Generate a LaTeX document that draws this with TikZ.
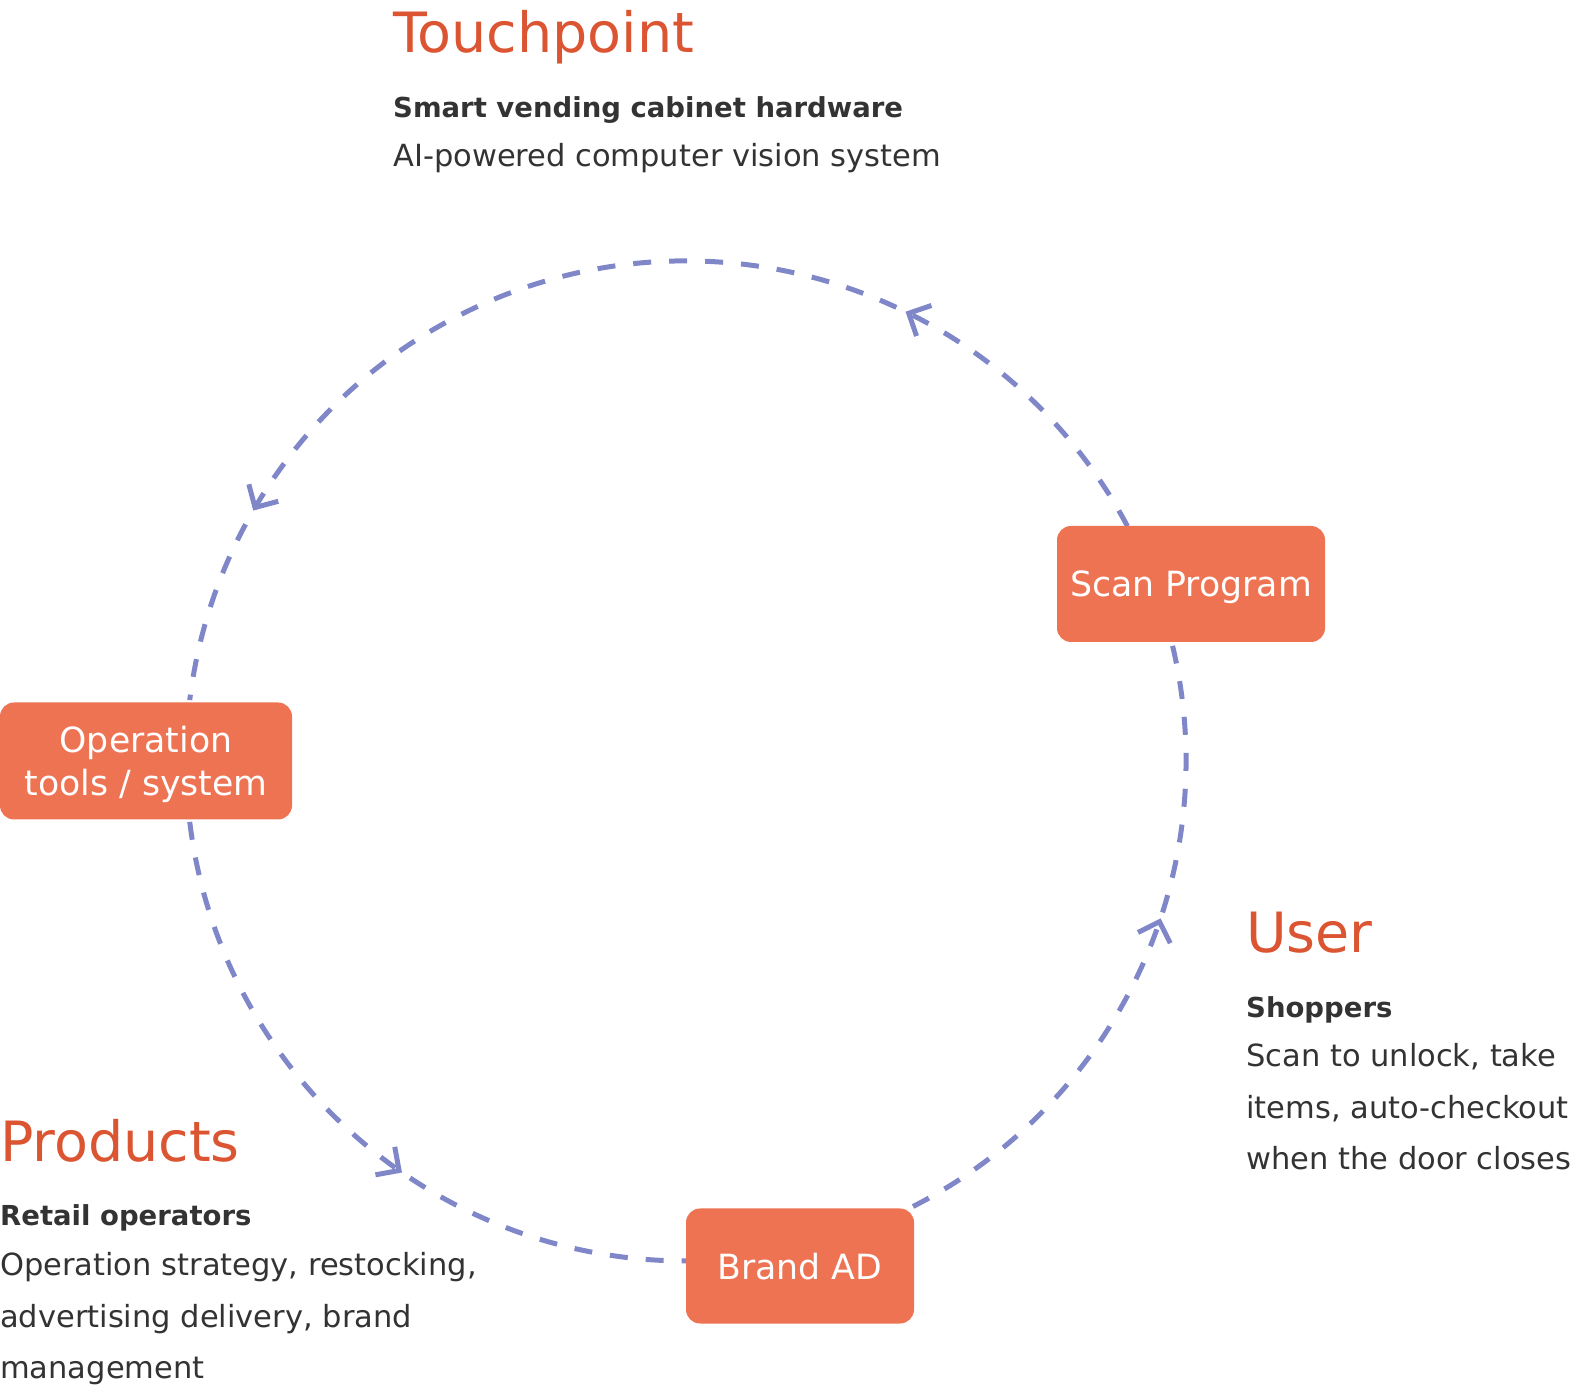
\documentclass[tikz,border=0pt]{standalone}
\usepackage{fontspec}
\setmainfont{DejaVu Sans}
\usepackage{tikz}
\usetikzlibrary{
  arrows.meta,
  positioning,
  decorations.markings
}

\definecolor{stagefill}{RGB}{238,115,82}
\definecolor{headred}{RGB}{219,85,50}
\definecolor{inkgray}{RGB}{51,51,51}
\definecolor{loopblue}{RGB}{127,135,200}

\tikzset{
  stage/.style={fill=stagefill, rounded corners=14pt, text=white, align=center,
    inner sep=0pt, text depth=0pt, font=\fontsize{34.7}{43}\selectfont},
  flow/.style={draw, color=loopblue, line width=5pt, dash pattern=on 18pt off 18pt},
  tipat/.style={postaction={decorate, decoration={markings,
    mark=at position #1 with {\arrow{Straight Barb[length=17pt,width=34pt,line width=5pt]}}}}},
  head/.style={anchor=base west, inner sep=0pt, text=headred, font=\fontsize{55.5}{60}\selectfont},
  lead/.style={anchor=base west, inner sep=0pt, text=inkgray, font=\fontsize{27.5}{34}\selectfont\bfseries},
  desc/.style={anchor=base west, inner sep=0pt, text=inkgray, font=\fontsize{30.5}{34}\selectfont}
}

\begin{document}
\begin{tikzpicture}[x=1pt,y=1pt]
\useasboundingbox (0,0) rectangle (1594,1394);
\coordinate (hub) at (686,633);

% the loop
\draw[flow, tipat=0.248, tipat=0.841] (hub) ++(28:500pt) arc[start angle=28, end angle=173, radius=500pt];
\draw[flow, tipat=0.583] (hub) ++(187:500pt) arc[start angle=187, end angle=270, radius=500pt];
\draw[flow, tipat=0.58] (hub) ++(297:500pt) arc[start angle=297, end angle=374, radius=500pt];

% stages
\node[stage, minimum width=268pt, minimum height=116pt] (scan) at (1191,810) {Scan Program};
\node[stage, minimum width=292pt, minimum height=117pt] (ops) at (146,633) {Operation\\tools / system};
\node[stage, minimum width=228pt, minimum height=115pt] (brand) at (800,128) {Brand AD};

% Touchpoint
\node[head] (tp) at (393,1341) {Touchpoint};
\node[lead] (tplead) at (393,1276) {Smart vending cabinet hardware};
\node[desc] (tpdesc) at (393,1227) {AI-powered computer vision system};

% User
\node[head] (usr) at (1246,441) {User};
\node[lead] (usrlead) at (1246,376) {Shoppers};
\node[desc] (usrdescA) at (1246,327) {Scan to unlock, take};
\node[desc] (usrdescB) at (1246,275) {items, auto-checkout};
\node[desc] (usrdescC) at (1246,224) {when the door closes};

% Products
\node[head] (prod) at (0,232) {Products};
\node[lead] (prodlead) at (0,168) {Retail operators};
\node[desc] (proddescA) at (0,119) {Operation strategy, restocking,};
\node[desc] (proddescB) at (0,67) {advertising delivery, brand};
\node[desc] (proddescC) at (0,16) {management};
\end{tikzpicture}
\end{document}
